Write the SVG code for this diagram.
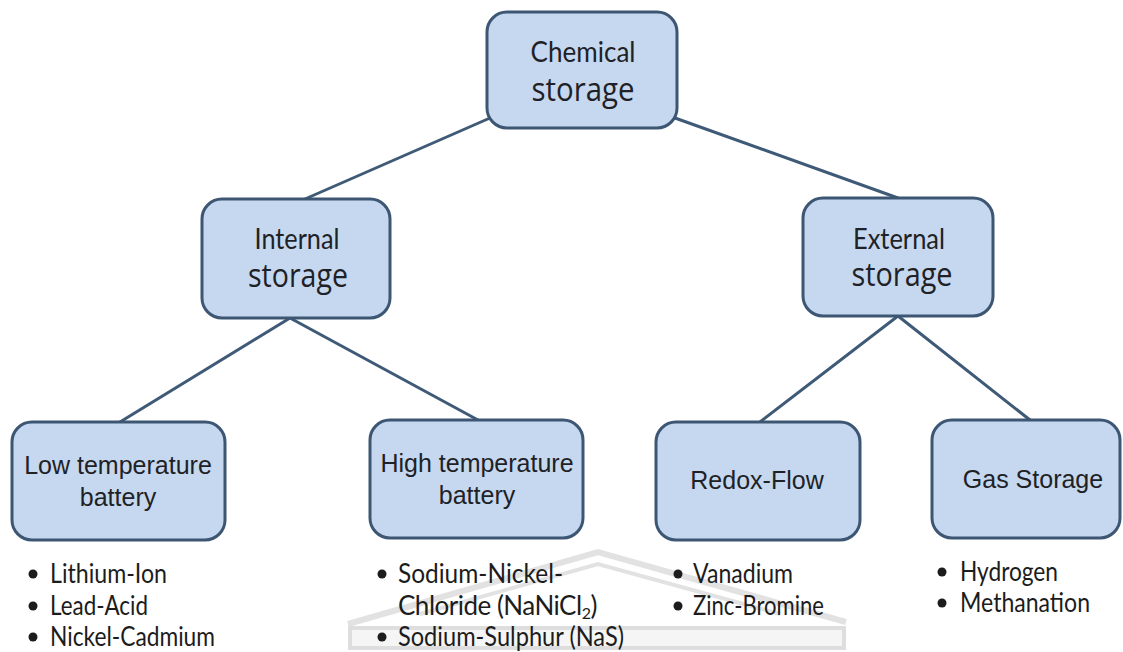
<svg xmlns="http://www.w3.org/2000/svg" width="1123" height="652" viewBox="0 0 1123 652">
  <style>
    .box { fill: #c6d8ef; stroke: #3d5673; stroke-width: 3; }
    .link { stroke: #3f5a77; stroke-width: 3; fill: none; stroke-linecap: round; }
    .arial { font-family: "Liberation Sans", Arial, sans-serif; font-size: 25px; fill: #1e2226; text-anchor: middle; }
    .cal { font-family: Lato, "Open Sans", sans-serif; font-size: 28px; fill: #1e2226; text-anchor: middle; }
    .seg { font-family: "Open Sans", "Noto Sans", sans-serif; font-size: 32px; fill: #1e2226; text-anchor: middle; }
    .item { font-family: Lato, "Open Sans", sans-serif; font-size: 26px; fill: #1c1c1c; }
    .dot { fill: #1c1c1c; }
    .wm { fill: none; stroke: #dcdcdc; stroke-linejoin: miter; }
  </style>

  <rect width="1123" height="652" fill="#ffffff"/>

  <!-- faint background emblem behind the lower lists -->
  <g id="emblem" opacity="0.8">
    <polyline class="wm" points="348,624 598,552 846,622" stroke-width="6"/>
    <polyline class="wm" points="420,614 598,564 780,614" stroke-width="4"/>
    <rect x="350" y="628" width="494" height="20" fill="#f3f3f3" stroke="#d6d6d6" stroke-width="4"/>
  </g>

  <!-- connectors -->
  <g id="connectors">
    <line class="link" x1="490" y1="118" x2="305" y2="199"/>
    <line class="link" x1="675" y1="118" x2="898" y2="198"/>
    <line class="link" x1="290" y1="318" x2="120" y2="422"/>
    <line class="link" x1="290" y1="318" x2="478" y2="420"/>
    <line class="link" x1="898" y1="316" x2="760" y2="422"/>
    <line class="link" x1="898" y1="316" x2="1030" y2="420"/>
  </g>

  <g id="chemical">
    <rect class="box" x="487" y="12" width="190" height="116" rx="20"/>
    <text class="cal" x="583" y="62" textLength="105" lengthAdjust="spacingAndGlyphs">Chemical</text>
    <text class="seg" x="583" y="101" textLength="103" lengthAdjust="spacingAndGlyphs">storage</text>
  </g>

  <g id="internal">
    <rect class="box" x="202" y="199" width="188" height="119" rx="20"/>
    <text class="cal" x="297" y="249" textLength="85" lengthAdjust="spacingAndGlyphs">Internal</text>
    <text class="seg" x="298" y="287" textLength="100" lengthAdjust="spacingAndGlyphs">storage</text>
  </g>

  <g id="external">
    <rect class="box" x="803" y="198" width="190" height="118" rx="20"/>
    <text class="cal" x="899" y="249" textLength="92" lengthAdjust="spacingAndGlyphs">External</text>
    <text class="seg" x="902" y="286" textLength="101" lengthAdjust="spacingAndGlyphs">storage</text>
  </g>

  <g id="low-temperature">
    <rect class="box" x="12" y="422" width="213" height="118" rx="20"/>
    <text class="arial" x="118" y="474">Low temperature</text>
    <text class="arial" x="118" y="506">battery</text>
  </g>

  <g id="high-temperature">
    <rect class="box" x="370" y="420" width="213" height="118" rx="20"/>
    <text class="arial" x="477" y="472">High temperature</text>
    <text class="arial" x="477" y="504">battery</text>
  </g>

  <g id="redox-flow">
    <rect class="box" x="656" y="422" width="204" height="118" rx="20"/>
    <text class="arial" x="757" y="489">Redox-Flow</text>
  </g>

  <g id="gas-storage">
    <rect class="box" x="932" y="420" width="188" height="118" rx="20"/>
    <text class="arial" x="1033" y="488">Gas Storage</text>
  </g>

  <!-- technology lists under each family -->
  <g id="low-temperature-list">
    <circle class="dot" cx="33" cy="574" r="4.5"/>
    <text class="item" x="50" y="583" textLength="117" lengthAdjust="spacingAndGlyphs">Lithium-Ion</text>
    <circle class="dot" cx="33" cy="606" r="4.5"/>
    <text class="item" x="50" y="615" textLength="98" lengthAdjust="spacingAndGlyphs">Lead-Acid</text>
    <circle class="dot" cx="33" cy="637" r="4.5"/>
    <text class="item" x="50" y="646" textLength="165" lengthAdjust="spacingAndGlyphs">Nickel-Cadmium</text>
  </g>

  <g id="high-temperature-list">
    <circle class="dot" cx="382" cy="574" r="4.5"/>
    <text class="item" x="398" y="583" textLength="165" lengthAdjust="spacingAndGlyphs">Sodium-Nickel-</text>
    <text class="item" x="398" y="615" font-size="23" letter-spacing="-0.5">Chloride (NaNiCl<tspan font-size="16" baseline-shift="-4">2</tspan>)</text>
    <circle class="dot" cx="382" cy="637" r="4.5"/>
    <text class="item" x="398" y="646" textLength="226" lengthAdjust="spacingAndGlyphs">Sodium-Sulphur (NaS)</text>
  </g>

  <g id="redox-flow-list">
    <circle class="dot" cx="678" cy="574" r="4.5"/>
    <text class="item" x="693" y="583" textLength="100" lengthAdjust="spacingAndGlyphs">Vanadium</text>
    <circle class="dot" cx="678" cy="606" r="4.5"/>
    <text class="item" x="693" y="615" textLength="131" lengthAdjust="spacingAndGlyphs">Zinc-Bromine</text>
  </g>

  <g id="gas-storage-list">
    <circle class="dot" cx="942" cy="572" r="4.5"/>
    <text class="item" x="960" y="581" textLength="98" lengthAdjust="spacingAndGlyphs">Hydrogen</text>
    <circle class="dot" cx="942" cy="603" r="4.5"/>
    <text class="item" x="960" y="612" textLength="130" lengthAdjust="spacingAndGlyphs">Methanation</text>
  </g>
</svg>
